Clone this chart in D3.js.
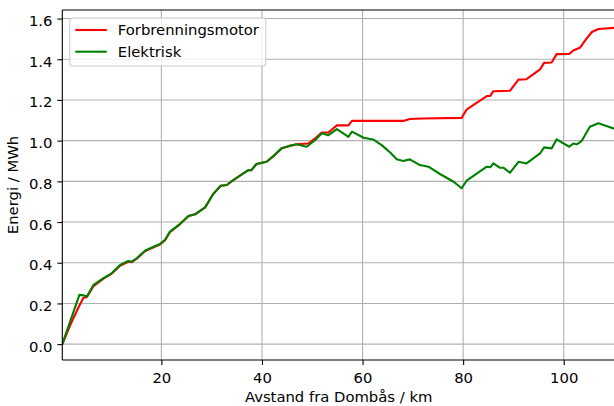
<!DOCTYPE html>
<html>
<head>
<meta charset="utf-8">
<script src="https://cdn.jsdelivr.net/npm/d3@7"></script>
<style>
  body { margin: 0; background: #fff; }
  svg { display: block; font-family: "DejaVu Sans", sans-serif; }
</style>
</head>
<body>
<svg id="chart" width="614" height="406"></svg>
<script>
// Forbrenningsmotor (rød)
const fmKm = [0.3, 2.0, 3.5, 4.5, 5.2, 6.5, 8.5, 10.1, 11.8, 13.4, 14.1, 15.1, 16.8, 19.7, 20.7, 21.7,
    23.7, 25.4, 26.7, 28.7, 30.3, 31.8, 33.0, 34.3, 36.0, 37.3, 37.9, 38.9, 40.9, 42.3, 43.9, 45.3,
    46.9, 49.2, 50.6, 51.9, 53.2, 54.9, 57.2, 57.9, 68.1, 69.4, 71.8, 79.7, 80.7, 82.0, 84.7, 85.4,
    86.0, 89.3, 91.0, 92.6, 95.3, 96.1, 97.6, 98.6, 101.1, 101.9, 103.3, 104.2, 105.6, 106.9, 109.9];
const fmEnergi = [0, 0.10, 0.18, 0.228, 0.232, 0.285, 0.322, 0.346, 0.385, 0.405, 0.403, 0.42, 0.458, 0.49, 0.51, 0.55,
    0.59, 0.63, 0.638, 0.672, 0.738, 0.778, 0.782, 0.806, 0.834, 0.855, 0.855, 0.885, 0.896, 0.924, 0.962, 0.973,
    0.982, 0.986, 1.011, 1.040, 1.040, 1.075, 1.075, 1.097, 1.097, 1.106, 1.109, 1.112, 1.153, 1.174, 1.219, 1.220,
    1.243, 1.245, 1.300, 1.302, 1.350, 1.382, 1.384, 1.425, 1.426, 1.443, 1.458, 1.490, 1.534, 1.549, 1.554];

// Elektrisk (grønn)
const elKm = [0.3, 3.7, 4.4, 5.2, 6.5, 8.5, 10.1, 11.8, 13.4, 14.1, 15.1, 16.8, 19.7, 20.7, 21.7, 23.7,
    25.4, 26.7, 28.7, 30.3, 31.8, 33.0, 34.3, 36.0, 37.3, 37.9, 38.9, 40.9, 42.3, 43.9, 45.3, 46.9,
    48.9, 50.6, 51.9, 53.2, 54.9, 57.2, 57.9, 60.2, 62.1, 63.8, 65.5, 66.8, 68.1, 69.4, 71.4, 73.1,
    75.4, 78.1, 79.7, 80.7, 84.7, 85.4, 86.0, 87.3, 88.0, 89.3, 91.0, 92.6, 95.3, 96.1, 97.6, 98.6,
    101.1, 101.9, 102.6, 103.6, 105.2, 106.9, 109.9];
const elEnergi = [0, 0.242, 0.240, 0.234, 0.291, 0.324, 0.348, 0.389, 0.409, 0.405, 0.422, 0.46, 0.492, 0.512, 0.553, 0.59,
    0.63, 0.638, 0.672, 0.738, 0.778, 0.782, 0.806, 0.834, 0.855, 0.855, 0.885, 0.896, 0.924, 0.962, 0.973, 0.982,
    0.970, 1.003, 1.036, 1.027, 1.057, 1.019, 1.044, 1.014, 1.006, 0.978, 0.942, 0.909, 0.900, 0.908, 0.880, 0.872,
    0.836, 0.798, 0.766, 0.803, 0.872, 0.869, 0.888, 0.867, 0.867, 0.842, 0.896, 0.888, 0.937, 0.967, 0.962, 1.006,
    0.970, 0.986, 0.982, 0.999, 1.068, 1.085, 1.060];

const xTicks = [20, 40, 60, 80, 100];
const yTicks = [0, 0.2, 0.4, 0.6, 0.8, 1.0, 1.2, 1.4, 1.6];

const series = [
    { name: 'Forbrenningsmotor', color: '#ff0000', km: fmKm, energi: fmEnergi },
    { name: 'Elektrisk', color: '#008000', km: elKm, energi: elEnergi }
];

const fontSize = '14.8px';
const svg = d3.select('#chart');
const margin = { top: 10, right: -1, bottom: 46, left: 62.3 };
const width = +svg.attr('width') - margin.left - margin.right;
const height = +svg.attr('height') - margin.top - margin.bottom;
const g = svg.append('g').attr('transform', `translate(${margin.left},${margin.top})`);

const x = d3.scaleLinear().domain([0.3, 110.2]).range([0, width]);
const y = d3.scaleLinear().domain([-0.078, 1.642]).range([height, 0]);

svg.append('defs').append('clipPath').attr('id', 'clip')
    .append('rect').attr('width', width).attr('height', height);

// rutenett
g.append('g').selectAll('line').data(xTicks).join('line')
    .attr('x1', d => x(d)).attr('x2', d => x(d))
    .attr('y1', 0).attr('y2', height)
    .attr('stroke', '#b0b0b0').attr('stroke-width', 1.1);
g.append('g').selectAll('line').data(yTicks).join('line')
    .attr('x1', 0).attr('x2', width)
    .attr('y1', d => y(d)).attr('y2', d => y(d))
    .attr('stroke', '#b0b0b0').attr('stroke-width', 1.1);

const line = d3.line()
    .x(d => x(d[0]))
    .y(d => y(d[1]));

series.forEach(s => {
    g.append('path')
        .datum(d3.zip(s.km, s.energi))
        .attr('clip-path', 'url(#clip)')
        .attr('fill', 'none')
        .attr('stroke', s.color)
        .attr('stroke-width', 2.1)
        .attr('stroke-linejoin', 'round')
        .attr('stroke-linecap', 'square')
        .attr('d', line);
});

// akser
const xAxis = g.append('g').attr('transform', `translate(0,${height})`)
    .call(d3.axisBottom(x).tickValues(xTicks).tickSize(4.9).tickPadding(7.1).tickFormat(d3.format('d')));
const yAxis = g.append('g')
    .call(d3.axisLeft(y).tickValues(yTicks).tickSize(4.9).tickPadding(4.9).tickFormat(d3.format('.1f')));
yAxis.selectAll('text').attr('dy', '0.47em');

[xAxis, yAxis].forEach(a => {
    a.select('.domain').remove();
    a.selectAll('line').attr('stroke', '#000').attr('stroke-width', 1.1);
    a.selectAll('text').attr('fill', '#000').style('font-size', fontSize).style('font-family', '"DejaVu Sans", sans-serif');
});

// rammer
g.append('line').attr('x1', 0).attr('x2', 0).attr('y1', 0).attr('y2', height).attr('stroke', '#000').attr('stroke-width', 1.1);
g.append('line').attr('x1', 0).attr('x2', width).attr('y1', height).attr('y2', height).attr('stroke', '#000').attr('stroke-width', 1.1);
g.append('line').attr('x1', 0).attr('x2', width).attr('y1', 0).attr('y2', 0).attr('stroke', '#000').attr('stroke-width', 1.1);
g.append('line').attr('x1', width).attr('x2', width).attr('y1', 0).attr('y2', height).attr('stroke', '#000').attr('stroke-width', 1.1);

svg.append('text')
    .attr('x', margin.left + width / 2).attr('y', 402)
    .attr('text-anchor', 'middle').style('font-size', fontSize)
    .text('Avstand fra Dombås / km');
svg.append('text')
    .attr('transform', `translate(18.2,${margin.top + height / 2}) rotate(-90)`)
    .attr('text-anchor', 'middle').style('font-size', fontSize)
    .text('Energi / MWh');

// forklaring
const legend = g.append('g').attr('transform', 'translate(7.5,8)');
legend.append('rect')
    .attr('width', 196).attr('height', 48).attr('rx', 3)
    .attr('fill', '#fff').attr('fill-opacity', 0.8)
    .attr('stroke', '#cccccc').attr('stroke-width', 1.1);
series.forEach((s, i) => {
    const row = legend.append('g').attr('transform', `translate(0,${12 + i * 21.7})`);
    row.append('line').attr('x1', 5.5).attr('x2', 37).attr('stroke', s.color).attr('stroke-width', 2.1);
    row.append('text').attr('x', 48).attr('dy', '0.36em').style('font-size', fontSize).text(s.name);
});
</script>
</body>
</html>
